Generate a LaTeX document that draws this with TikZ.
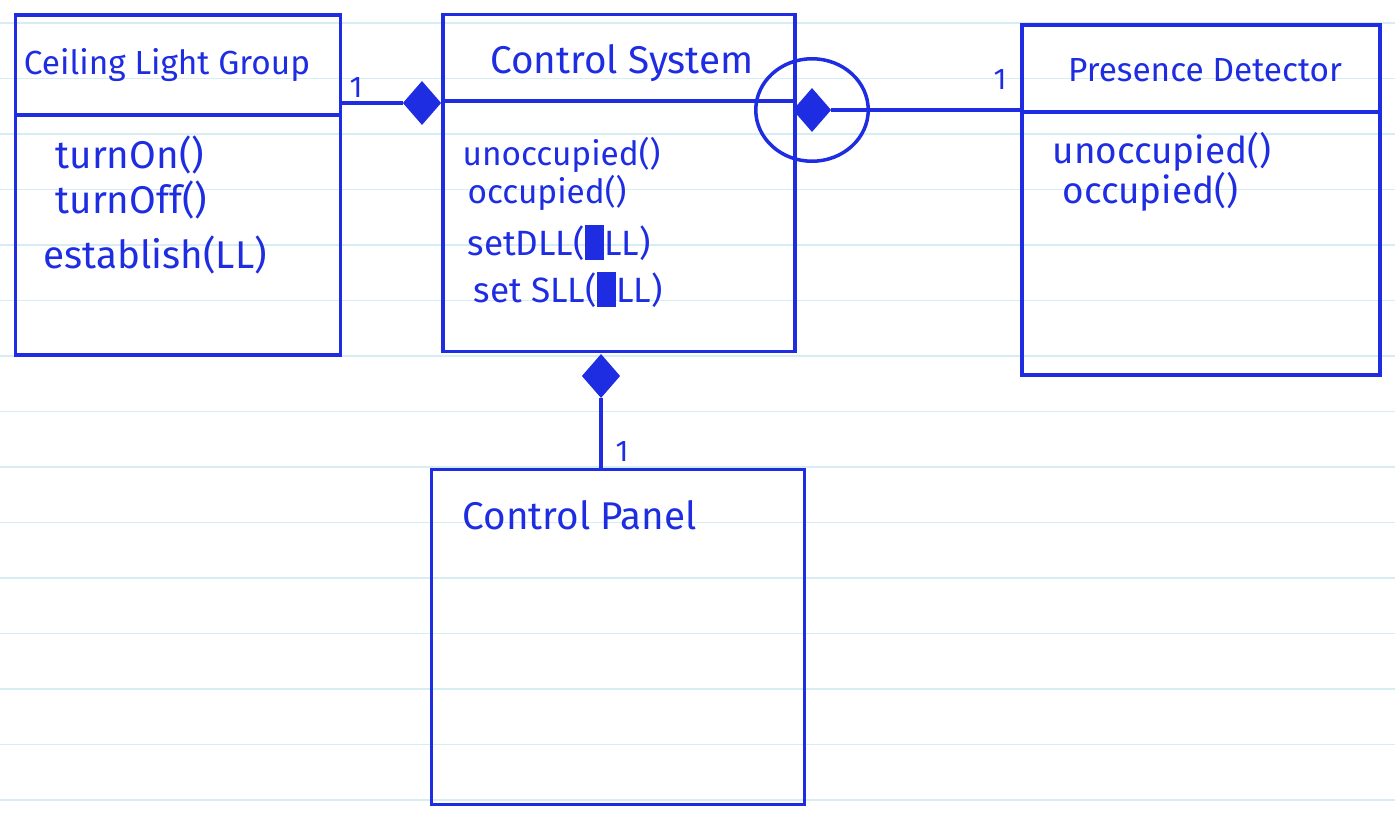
\documentclass[tikz,border=0pt]{standalone}
\usepackage{fontspec}
\setmainfont{Fira Sans}
\usetikzlibrary{shapes.geometric}
\definecolor{ink}{RGB}{30,45,225}
\definecolor{ruling}{RGB}{215,237,244}
\newcommand\inkblot{\rule[-0.25ex]{0.55em}{1.9ex}}

\begin{document}
\begin{tikzpicture}[x=0.02cm,y=-0.02cm,line width=2pt,color=ink,
  classbox/.style={draw,rectangle,inner sep=0pt},
  title/.style={font=\fontsize{#1}{#1}\selectfont}, title/.default=19,
  op/.style={anchor=west,font=\fontsize{#1}{#1}\selectfont}, op/.default=19,
  comp/.style={draw,diamond,fill=ink,inner sep=0pt,minimum width=0.7cm,minimum height=0.8cm},
  mult/.style={font=\fontsize{17}{17}\selectfont}]
\useasboundingbox (0,0) rectangle (1395,814);
% ruled paper
\foreach \y in {23,78.5,...,800} \draw[ruling,line width=0.8pt] (0,\y) -- (1395,\y);

% classes
\node[classbox,minimum width=6.5cm,minimum height=6.8cm] (clg) at (178,185) {};
\node[classbox,minimum width=7.04cm,minimum height=6.74cm] (cs) at (619,183) {};
\node[classbox,minimum width=7.16cm,minimum height=7cm] (pd) at (1201,200) {};
\node[classbox,minimum width=7.46cm,minimum height=6.7cm] (cp) at (618,637) {};

\node[title] (clgname) at (167,65) {Ceiling Light Group};
\node[title=22] (csname) at (622,63) {Control System};
\node[title] (pdname) at (1205,70) {Presence Detector};
\node[title=22,anchor=west] (cpname) at (455,515) {Control Panel};

\draw (clg.west |- 0,115) -- (clg.east |- 0,115);
\draw (cs.west |- 0,101) -- (cs.east |- 0,101);
\draw (pd.west |- 0,112) -- (pd.east |- 0,112);

% operations
\node[op=22] (turnon) at (48,155) {turnOn()};
\node[op=22] (turnoff) at (48,200) {turnOff()};
\node[op=22] (establish) at (36,255) {establish(LL)};

\node[op] (csunocc) at (455,155) {unoccupied()};
\node[op] (csocc) at (460,193) {occupied()};
\node[op=20] (setdll) at (460,243) {setDLL(\inkblot LL)};
\node[op=20] (setsll) at (466,290) {set SLL(\inkblot LL)};

\node[op=21] (pdunocc) at (1045,152) {unoccupied()};
\node[op=21] (pdocc) at (1055,192) {occupied()};

% compositions
\node[comp] (d1) at (422,103) {};
\node[comp] (d2) at (812,110) {};
\node[comp] (d3) at (601,376) {};
\node[draw,ellipse,minimum width=2.25cm,minimum height=2.05cm] (ring) at (d2) {};

\draw (clg.east |- d1) -- (d1.west);
\draw (d2.east) -- (pd.west |- d2);
\draw (d3.south) -- (d3.south |- cp.north);

\node[mult] (m1) at (356,88) {1};
\node[mult] (m2) at (1000,80) {1};
\node[mult] (m3) at (622,452) {1};
\end{tikzpicture}
\end{document}
